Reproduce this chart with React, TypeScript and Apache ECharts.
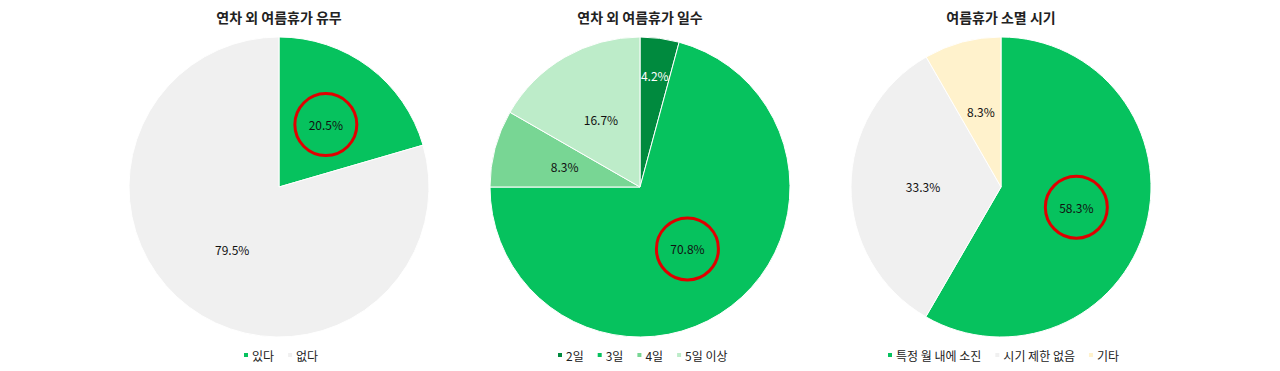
import React, { useEffect, useRef } from "react";
import * as echarts from "echarts";

const titles = ["연차 외 여름휴가 유무", "연차 외 여름휴가 일수", "여름휴가 소멸 시기"];

const cats1 = ["있다", "없다"];
const vals1 = [20.5, 79.5];
const colors1 = ["#06c25e", "#f0f0f0"];

const cats2 = ["2일", "3일", "4일", "5일 이상"];
const vals2 = [4.2, 70.8, 8.3, 16.7];
const colors2 = ["#008a3e", "#06c25e", "#78d694", "#bdecc9"];

const cats3 = ["특정 월 내에 소진", "시기 제한 없음", "기타"];
const vals3 = [58.3, 33.3, 8.3];
const colors3 = ["#06c25e", "#f0f0f0", "#fff2cc"];

// which slice of each pie is circled in red
const highlighted = ["있다", "3일", "특정 월 내에 소진"];
// labels pushed outward (label name -> fraction of radius)
const outerLabels: Record<string, number> = { "2일": 0.75 };
// label text colours that are white
const whiteLabels = ["2일"];

const W = 1264;
const H = 355;
const R = 150;
const CY = 179;
const CXS = [271, 632, 993];
const FONT = "'Noto Sans CJK KR', 'Noto Sans', sans-serif";

function measure(text: string, size: number): number {
  const c = document.createElement("canvas").getContext("2d");
  if (!c) return text.length * size * 0.8;
  c.font = `${size}px ${FONT}`;
  return c.measureText(text).width;
}

export default function App() {
  const ref = useRef<HTMLDivElement>(null);
  useEffect(() => {
    if (!ref.current) return;
    const chart = echarts.init(ref.current, null, { renderer: "svg" });
    const groups = [
      { cats: cats1, vals: vals1, colors: colors1 },
      { cats: cats2, vals: vals2, colors: colors2 },
      { cats: cats3, vals: vals3, colors: colors3 },
    ];
    const itemW = 6;
    const itemGap = 12;
    const textShift = -2;
    const series = groups.map((g, gi) => {
      const total = g.vals.reduce((a, b) => a + b, 0);
      let cum = 0;
      const mids: number[] = [];
      g.vals.forEach((v) => {
        mids.push(((cum + v / 2) / total) * Math.PI * 2);
        cum += v;
      });
      return {
        type: "pie",
        name: titles[gi],
        center: [CXS[gi], CY],
        radius: [0, R],
        startAngle: 90,
        clockwise: true,
        animation: false,
        silent: true,
        itemStyle: { borderColor: "#ffffff", borderWidth: 1 },
        label: {
          show: true,
          position: "inner",
          fontFamily: FONT,
          fontSize: 12,
          color: "#111",
          formatter: (p: any) => p.value.toFixed(1) + "%",
        },
        labelLine: { show: false },
        labelLayout: (p: any) => {
          const name = g.cats[p.dataIndex];
          const f = outerLabels[name];
          if (!f) return {};
          const a = mids[p.dataIndex];
          return {
            x: CXS[gi] + Math.sin(a) * f * R,
            y: CY - Math.cos(a) * f * R,
            align: "center",
            verticalAlign: "middle",
          };
        },
        data: g.cats.map((c, i) => {
          const item: any = {
            name: c,
            value: g.vals[i],
            itemStyle: { color: g.colors[i] },
          };
          const lbl: any = {};
          if (whiteLabels.includes(c)) lbl.color = "#ffffff";
          if (highlighted.includes(c)) {
            Object.assign(lbl, {
              width: 62,
              height: 62,
              lineHeight: 62,
              align: "center",
              borderColor: "#e00000",
              borderWidth: 3,
              borderRadius: 31,
              padding: 0,
            });
          }
          item.label = lbl;
          return item;
        }),
      };
    });
    const legends = groups.map((g, i) => {
      const w =
        g.cats.reduce((s, c) => s + itemW + 5 + textShift + measure(c, 12), 0) +
        itemGap * (g.cats.length - 1);
      return {
        data: g.cats,
        left: Math.round(CXS[i] - w / 2),
        top: 341,
        padding: 0,
        orient: "horizontal",
        itemWidth: itemW,
        itemHeight: itemW,
        itemGap,
        icon: "rect",
        textStyle: {
          fontFamily: FONT,
          fontSize: 12,
          color: "#222",
          padding: [0, 0, 0, textShift],
        },
        selectedMode: false,
      };
    });
    chart.setOption({
      animation: false,
      backgroundColor: "#ffffff",
      title: titles.map((t, i) => ({
        text: t,
        left: CXS[i],
        top: 2,
        padding: 0,
        textAlign: "center",
        textStyle: { fontFamily: FONT, fontSize: 14, fontWeight: "bold", color: "#222" },
      })),
      legend: legends,
      series,
    });
    return () => chart.dispose();
  }, []);
  return <div ref={ref} style={{ width: W, height: H }} />;
}
